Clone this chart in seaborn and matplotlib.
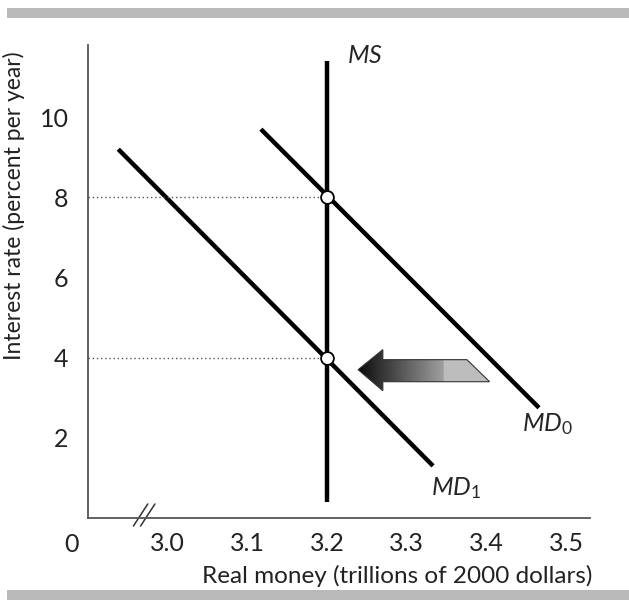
import numpy as np
import pandas as pd
import matplotlib
matplotlib.use("Agg")
import matplotlib.pyplot as plt
from matplotlib.patches import Polygon, Rectangle
import seaborn as sns

# ---- data ----
ms_x = [3.2, 3.2]
ms_y = [0.4, 11.4]
md0_x = [3.117, 3.466]
md0_y = [9.7, 2.75]
md1_x = [2.938, 3.333]
md1_y = [9.2, 1.3]
eq_x = [3.2, 3.2]
eq_y = [8, 4]
x_ticks = [3.0, 3.1, 3.2, 3.3, 3.4, 3.5]
x_ticklabels = ["3.0", "3.1", "3.2", "3.3", "3.4", "3.5"]
y_ticks = [2, 4, 6, 8, 10]
y_ticklabels = ["2", "4", "6", "8", "10"]

sns.set_theme(style="white")
plt.rcParams['font.family'] = ['Lato', 'DejaVu Sans']
plt.rcParams['mathtext.fontset'] = 'custom'
plt.rcParams['mathtext.it'] = 'Lato:italic'
plt.rcParams['mathtext.rm'] = 'Lato'

fig = plt.figure(figsize=(6.29, 6.01), dpi=100)
ax = fig.add_axes([88/629, 83/601, 502/629, 473/601])

XMIN, XMAX, YMIN, YMAX = 2.9, 3.53, 0, 11.8

lw = 3.2
sns.lineplot(x=md0_x, y=md0_y, ax=ax, color="black", lw=lw, solid_capstyle="butt")
sns.lineplot(x=md1_x, y=md1_y, ax=ax, color="black", lw=lw, solid_capstyle="butt")
sns.lineplot(x=ms_x, y=ms_y, ax=ax, color="black", lw=lw, solid_capstyle="butt", orient="y")

# dotted guides
for xv, yv in zip(eq_x, eq_y):
    ax.plot([XMIN, xv], [yv, yv], color="#555555", lw=1.0, ls=(0, (1, 2)))

ax.scatter(eq_x, eq_y, s=85, facecolor="white", edgecolor="black", linewidth=1.3, zorder=5)

# gradient arrow
arrow = [(3.239, 3.7), (3.270, 4.2), (3.270, 3.95), (3.3755, 3.95),
         (3.404, 3.4), (3.270, 3.4), (3.270, 3.175)]
poly = Polygon(arrow, closed=True, facecolor="none", edgecolor="#333333", lw=0.8, zorder=4)
ax.add_patch(poly)
grad = np.concatenate([np.linspace(0.05, 0.62, 65), np.full(35, 0.74)])
img = ax.imshow(grad[np.newaxis, :], extent=(3.239, 3.404, 3.175, 4.2), aspect="auto",
                cmap="gray", vmin=0, vmax=1, zorder=3, interpolation="bilinear")
img.set_clip_path(poly)

# labels on curves
fs_lab = 18
ax.text(3.225, 11.55, r"$\mathit{MS}$", fontsize=fs_lab, ha="left", va="center")
ax.text(3.445, 2.35, r"$\mathit{MD}_{\mathrm{0}}$", fontsize=fs_lab, ha="left", va="center")
ax.text(3.330, 0.75, r"$\mathit{MD}_{\mathrm{1}}$", fontsize=fs_lab, ha="left", va="center")

ax.set_xlim(XMIN, XMAX)
ax.set_ylim(YMIN, YMAX)
ax.set_xticks(x_ticks)
ax.set_xticklabels(x_ticklabels)
ax.set_yticks(y_ticks)
ax.set_yticklabels(y_ticklabels)
fs_tick = 18
ax.tick_params(axis="both", direction="in", length=8, width=1.2, color="#555555",
               labelsize=fs_tick, labelcolor="#222222", pad=14)
ax.tick_params(axis="x", pad=10)

for s in ["top", "right"]:
    ax.spines[s].set_visible(False)
for s in ["left", "bottom"]:
    ax.spines[s].set_color("#555555")
    ax.spines[s].set_linewidth(1.3)

# axis break
for dx in [0, 0.009]:
    ax.plot([2.957 + dx, 2.975 + dx], [-0.2, 0.35], color="#333333", lw=1.1, clip_on=False)
ax.text(-0.032, -0.057, "0", transform=ax.transAxes, fontsize=fs_tick, ha="center", va="center",
        color="#222222")

ax.set_xlabel("Real money (trillions of 2000 dollars)", fontsize=17.5, color="#222222")
ax.xaxis.set_label_coords(0.615, -0.1)
ax.set_ylabel("Interest rate (percent per year)", fontsize=16.5, color="#222222")
ax.yaxis.set_label_coords(-0.125, 0.66)

# gray bands
fig.patches.append(Rectangle((7/629, 1 - 18/601), 622/629, 10/601, transform=fig.transFigure,
                             facecolor="#b9b9b9", edgecolor="none"))
fig.patches.append(Rectangle((7/629, 1 - 600/601), 622/629, 10/601, transform=fig.transFigure,
                             facecolor="#b9b9b9", edgecolor="none"))

fig.savefig("out.png", dpi=100)
